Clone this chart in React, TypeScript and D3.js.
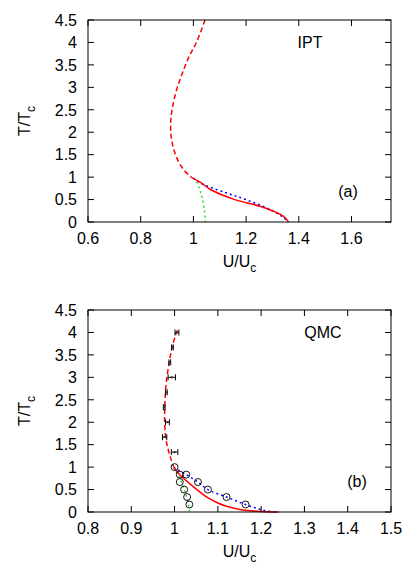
import React from 'react';
import * as d3 from 'd3';

// ---- panel (a): IPT ----
const iptDashU = [1.044, 1.013, 0.981, 0.956, 0.934, 0.920, 0.914, 0.915, 0.924, 0.943, 0.968, 0.994];
const iptDashT = [4.5, 4.02, 3.65, 3.28, 2.90, 2.53, 2.24, 1.94, 1.65, 1.35, 1.13, 0.99];
const iptSolidU = [0.994, 1.03, 1.063, 1.11, 1.152, 1.2, 1.254, 1.30, 1.33, 1.349, 1.361];
const iptSolidT = [0.99, 0.87, 0.73, 0.6, 0.51, 0.43, 0.35, 0.25, 0.17, 0.09, 0];
const iptBlueU = [1.0, 1.03, 1.08, 1.127, 1.17, 1.216, 1.26, 1.304, 1.336, 1.361];
const iptBlueT = [0.98, 0.86, 0.74, 0.645, 0.56, 0.46, 0.36, 0.236, 0.125, 0];
const iptGreenU = [1.0, 1.012, 1.025, 1.035, 1.042, 1.046];
const iptGreenT = [0.98, 0.9, 0.7, 0.5, 0.25, 0];

// ---- panel (b): QMC ----
const qmcDashU = [1.006, 0.995, 0.987, 0.981, 0.978, 0.977, 0.979, 0.985, 0.991, 0.998];
const qmcDashT = [4.05, 3.7, 3.3, 2.9, 2.5, 2.1, 1.7, 1.4, 1.2, 1.0];
const qmcSolidU = [0.998, 1.015, 1.04, 1.075, 1.10, 1.12, 1.155, 1.20, 1.24];
const qmcSolidT = [0.99, 0.80, 0.59, 0.33, 0.2, 0.13, 0.05, 0.01, 0];
const qmcBlueU = [0.998, 1.027, 1.054, 1.077, 1.12, 1.164, 1.205, 1.231];
const qmcBlueT = [0.99, 0.833, 0.667, 0.5, 0.333, 0.167, 0.04, 0];
const qmcGreenU = [0.998, 1.012, 1.022, 1.029, 1.035];
const qmcGreenT = [0.99, 0.75, 0.5, 0.3, 0];

// QMC points with error bars (high T)
const errT = [4.0, 3.667, 3.333, 3.0, 2.667, 2.333, 2.0, 1.667, 1.333];
const errU = [1.0055, 0.995, 0.989, 0.9935, 0.981, 0.976, 0.9835, 0.977, 1.0];
const errDU = [0.0045, 0.002, 0.002, 0.0085, 0.002, 0.002, 0.0045, 0.005, 0.0075];

// QMC circles
const circU = [1.0, 1.027, 1.054, 1.077, 1.12, 1.164, 1.012, 1.012, 1.022, 1.029, 1.034];
const circT = [1.0, 0.833, 0.667, 0.5, 0.333, 0.167, 0.833, 0.667, 0.5, 0.333, 0.167];

const yTicks = [0, 0.5, 1, 1.5, 2, 2.5, 3, 3.5, 4, 4.5];
const xTicksA = [0.6, 0.8, 1, 1.2, 1.4, 1.6];
const xTicksB = [0.8, 0.9, 1, 1.1, 1.2, 1.3, 1.4, 1.5];

const W = 303;
const H = 202;
const LEFT = 88;
const FONT = 'Liberation Sans, Arial, sans-serif';
const FS = 16;

const zip = (u: number[], t: number[]) => u.map((v, i) => [v, t[i]] as [number, number]);

type Series = { pts: [number, number][]; color: string; dash?: string };

const Panel = ({ top, xDomain, xTicks, series, label, tag, qmc }: any) => {
  const x = d3.scaleLinear().domain(xDomain).range([0, W]);
  const y = d3.scaleLinear().domain([0, 4.5]).range([H, 0]);
  const line = d3.line<[number, number]>().x(d => x(d[0])).y(d => y(d[1])).curve(d3.curveCatmullRom);
  const fmt = (v: number) => String(+v.toFixed(1));
  const clipId = `clip-${tag}`;

  return (
    <g transform={`translate(${LEFT},${top})`} fontFamily={FONT}>
      <defs>
        <clipPath id={clipId}><rect width={W} height={H} /></clipPath>
      </defs>
      <g clipPath={`url(#${clipId})`}>
        {(series as Series[]).map((s, i) => (
          <path key={i} d={line(s.pts) || ''} fill="none" stroke={s.color} strokeWidth={1.5} strokeDasharray={s.dash} />
        ))}
        {qmc && errT.map((t, i) => (
          <g key={`e${i}`} stroke="#000" strokeWidth={1}>
            <line x1={x(errU[i] - errDU[i])} x2={x(errU[i] + errDU[i])} y1={y(t)} y2={y(t)} />
            <line x1={x(errU[i] - errDU[i])} x2={x(errU[i] - errDU[i])} y1={y(t) - 3} y2={y(t) + 3} />
            <line x1={x(errU[i] + errDU[i])} x2={x(errU[i] + errDU[i])} y1={y(t) - 3} y2={y(t) + 3} />
            <rect x={x(errU[i]) - 1} y={y(t) - 1} width={2} height={2} fill="#333" stroke="none" />
          </g>
        ))}
        {qmc && circU.map((u, i) => (
          <circle key={`c${i}`} cx={x(u)} cy={y(circT[i])} r={3.5} fill="none" stroke="#000" strokeWidth={0.9} />
        ))}
      </g>
      <rect width={W} height={H} fill="none" stroke="#000" strokeWidth={1} />
      {yTicks.map(t => (
        <g key={`y${t}`}>
          <line x1={0} x2={6} y1={y(t)} y2={y(t)} stroke="#000" />
          <line x1={W - 6} x2={W} y1={y(t)} y2={y(t)} stroke="#000" />
          <text x={-11} y={y(t)} dy="0.36em" textAnchor="end" fontSize={FS}>{fmt(t)}</text>
        </g>
      ))}
      {(xTicks as number[]).map(t => (
        <g key={`x${t}`}>
          <line x1={x(t)} x2={x(t)} y1={H} y2={H - 6} stroke="#000" />
          <line x1={x(t)} x2={x(t)} y1={0} y2={6} stroke="#000" />
          <text x={x(t)} y={H + 22} textAnchor="middle" fontSize={FS}>{fmt(t)}</text>
        </g>
      ))}
      <text x={W / 2} y={H + 45} textAnchor="middle" fontSize={FS}>
        U/U<tspan dy={5} fontSize={12}>c</tspan>
      </text>
      <text transform={`translate(${30 - LEFT},${H / 2}) rotate(-90)`} textAnchor="middle" fontSize={FS}>
        T/T<tspan dy={5} fontSize={12}>c</tspan>
      </text>
      <text x={label.x - LEFT} y={28} textAnchor="middle" fontSize={FS}>{label.text}</text>
      <text x={label.tx - LEFT} y={177} textAnchor="middle" fontSize={FS}>{tag}</text>
    </g>
  );
};

export default function App() {
  const seriesA: Series[] = [
    { pts: zip(iptGreenU, iptGreenT), color: '#22dd22', dash: '2,3' },
    { pts: zip(iptBlueU, iptBlueT), color: '#0000ff', dash: '2,3' },
    { pts: zip(iptDashU, iptDashT), color: '#ff0000', dash: '5,3' },
    { pts: zip(iptSolidU, iptSolidT), color: '#ff0000' },
  ];
  const seriesB: Series[] = [
    { pts: zip(qmcGreenU, qmcGreenT), color: '#22dd22', dash: '2,3' },
    { pts: zip(qmcBlueU, qmcBlueT), color: '#0000ff', dash: '2,3' },
    { pts: zip(qmcDashU, qmcDashT), color: '#ff0000', dash: '5,3' },
    { pts: zip(qmcSolidU, qmcSolidT), color: '#ff0000' },
  ];
  return (
    <svg width={415} height={581} style={{ position: 'absolute', left: 0, top: 0, background: '#fff' }}>
      <Panel top={20} xDomain={[0.6, 1.75]} xTicks={xTicksA} series={seriesA}
        label={{ text: 'IPT', x: 310, tx: 348 }} tag="(a)" />
      <Panel top={310} xDomain={[0.8, 1.5]} xTicks={xTicksB} series={seriesB}
        label={{ text: 'QMC', x: 323, tx: 357 }} tag="(b)" qmc />
    </svg>
  );
}
